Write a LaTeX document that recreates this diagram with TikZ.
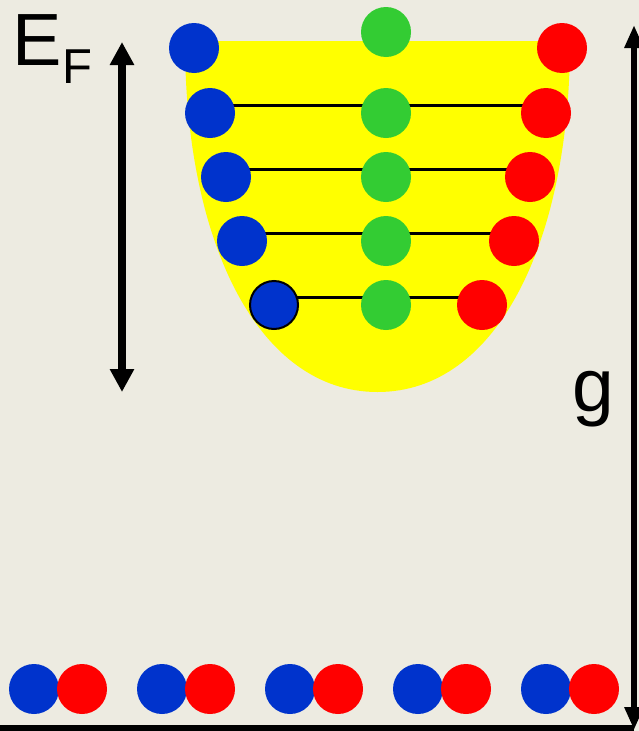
\documentclass[tikz,border=0pt]{standalone}
\usepackage{fontspec}
\setmainfont{Liberation Sans}
\usetikzlibrary{arrows.meta}
\pgfdeclarelayer{bg}
\pgfdeclarelayer{lines}
\pgfsetlayers{bg,lines,main}
\definecolor{bgc}{RGB}{237,235,225}
\definecolor{myblue}{RGB}{0,51,204}
\definecolor{mygreen}{RGB}{51,204,51}
\definecolor{myred}{RGB}{255,0,0}
\definecolor{myyellow}{RGB}{255,255,0}
\begin{document}
\begin{tikzpicture}[x=1pt,y=-1pt,
  dot/.style={circle,inner sep=0pt,minimum size=50pt},
  bdot/.style={dot,fill=myblue},
  gdot/.style={dot,fill=mygreen},
  rdot/.style={dot,fill=myred},
  level/.style={line width=3pt,black},
  bigarrow/.style={line width=8pt,{Triangle[width=23pt,length=23pt]}-{Triangle[width=23pt,length=23pt]}},
  garrow/.style={line width=6pt,{Triangle[width=18pt,length=23pt]}-{Triangle[width=18pt,length=23pt]}},
  lbl/.style={inner sep=0pt,anchor=base west}]
\useasboundingbox (0,0) rectangle (639,731);
\begin{pgfonlayer}{bg}
  \fill[bgc] (0,0) rectangle (639,731);
  \fill[myyellow] (185,41) -- (570,41)
    .. controls (570,241) and (497.5,392) .. (377.5,392)
    .. controls (257.5,392) and (185,241) .. (185,41) -- cycle;
\end{pgfonlayer}
% Fermi sea dots
\node[bdot] (b1) at (194,48) {};
\node[gdot] (g1) at (386,32) {};
\node[rdot] (r1) at (562,48) {};
\node[bdot] (b2) at (210,113) {};
\node[gdot] (g2) at (386,113) {};
\node[rdot] (r2) at (546,113) {};
\node[bdot] (b3) at (226,177) {};
\node[gdot] (g3) at (386,177) {};
\node[rdot] (r3) at (530,177) {};
\node[bdot] (b4) at (242,241) {};
\node[gdot] (g4) at (386,241) {};
\node[rdot] (r4) at (514,241) {};
\node[bdot,draw=black,line width=2pt,minimum size=48pt] (b5) at (274,305) {};
\node[gdot] (g5) at (386,305) {};
\node[rdot] (r5) at (482,305) {};
\begin{pgfonlayer}{lines}
  \draw[level] ([yshift=8pt]b2.center) -- ([yshift=8pt]r2.center);
  \draw[level] ([yshift=8pt]b3.center) -- ([yshift=8pt]r3.center);
  \draw[level] ([yshift=8pt]b4.center) -- ([yshift=8pt]r4.center);
  \draw[level] ([yshift=8pt]b5.center) -- ([yshift=8pt]r5.center);
\end{pgfonlayer}
% bottom pairs
\foreach \i/\x in {1/34,2/162,3/290,4/418,5/546}{
  \node[bdot] (pb\i) at (\x,689) {};
  \node[rdot] (pr\i) at (\x+48,689) {};
}
% arrows
\coordinate (eftop) at (122,42);
\coordinate (efbot) at (122,392);
\draw[bigarrow] (efbot) -- (eftop);
\coordinate (gtop) at (634,25);
\coordinate (gbot) at (634,730);
\draw[garrow] (gbot) -- (gtop);
\coordinate (bl) at (0,728);
\coordinate (br) at (634,728);
\draw[line width=6pt] (bl) -- (br);
% labels
\node[lbl] (E) at (12,65) {\fontsize{74}{74}\selectfont E};
\node[lbl] (F) at (62,83) {\fontsize{49}{49}\selectfont F};
\node[lbl] (g) at (572,411) {\fontsize{75}{75}\selectfont g};
\end{tikzpicture}
\end{document}
